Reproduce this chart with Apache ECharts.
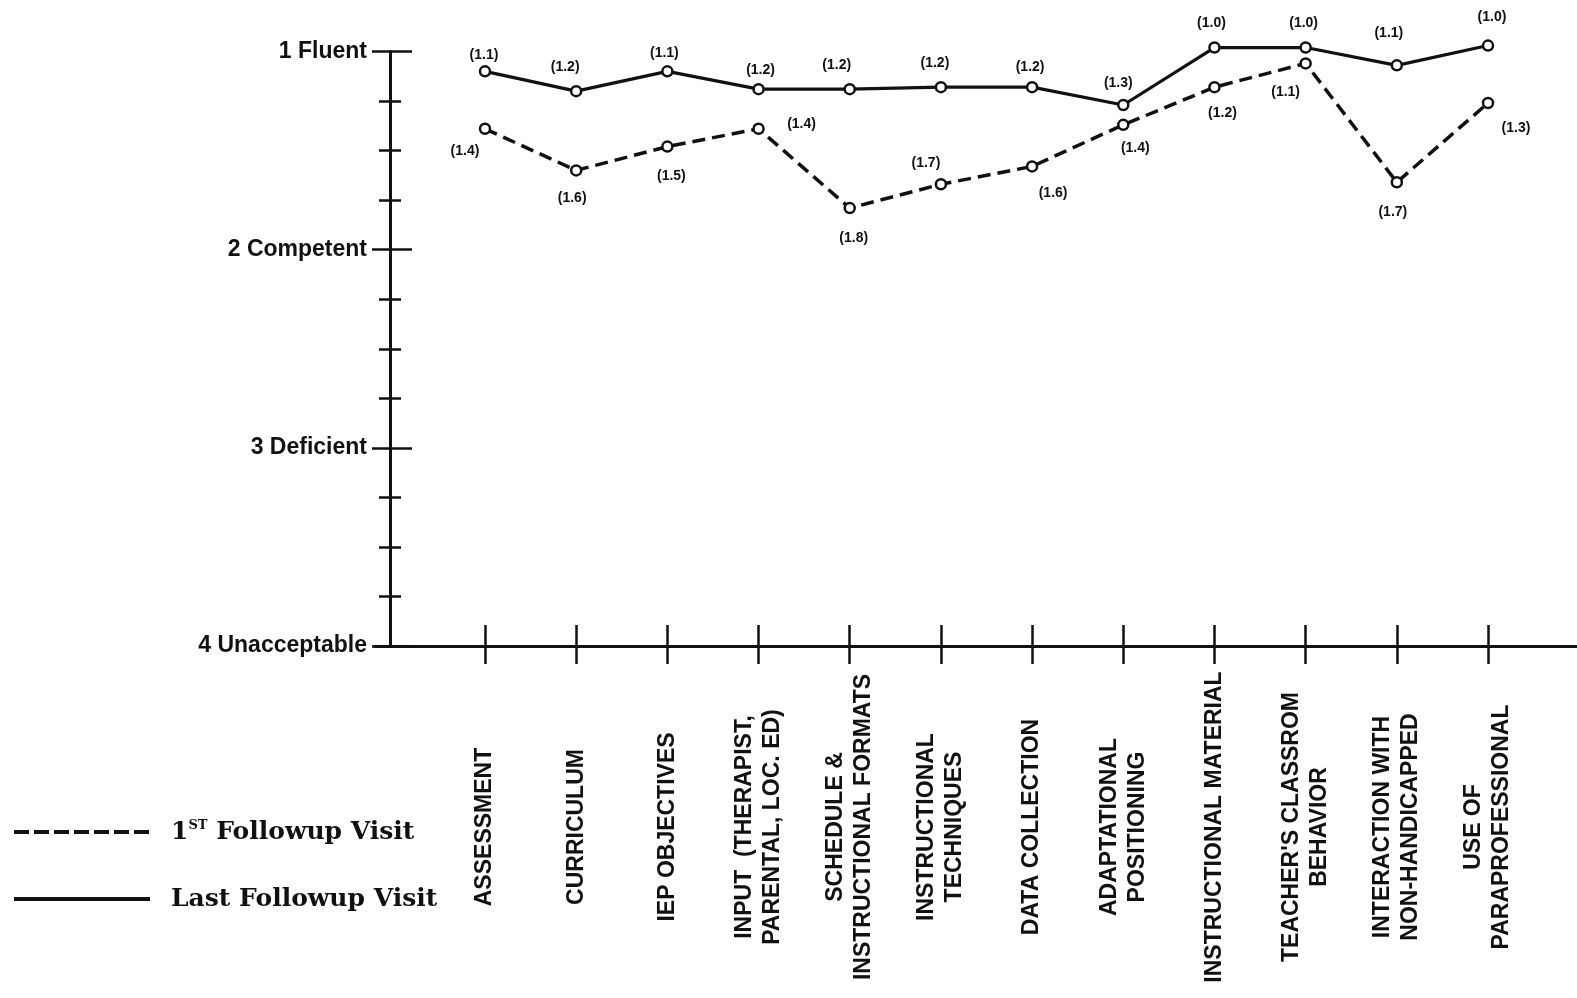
<!DOCTYPE html>
<html><head><meta charset="utf-8">
<script src="https://cdn.jsdelivr.net/npm/echarts@6/dist/echarts.min.js"></script>
<style>html,body{margin:0;padding:0;background:#fff}#c{width:1577px;height:998px}</style>
</head><body><div id="c"></div>
<script>
// ---- data ----
const categories = [
  'ASSESSMENT',
  'CURRICULUM',
  'IEP OBJECTIVES',
  'INPUT  (THERAPIST,\nPARENTAL, LOC. ED)',
  'SCHEDULE &\nINSTRUCTIONAL FORMATS',
  'INSTRUCTIONAL\nTECHNIQUES',
  'DATA COLLECTION',
  'ADAPTATIONAL\nPOSITIONING',
  'INSTRUCTIONAL MATERIAL',
  "TEACHER'S CLASSROM\nBEHAVIOR",
  'INTERACTION WITH\nNON-HANDICAPPED',
  'USE OF\nPARAPROFESSIONAL'
];
const firstVisit = [1.39, 1.60, 1.48, 1.39, 1.79, 1.67, 1.58, 1.37, 1.18, 1.06, 1.66, 1.26];
const lastVisit  = [1.10, 1.20, 1.10, 1.19, 1.19, 1.18, 1.18, 1.27, 0.98, 0.98, 1.07, 0.97];
const yTickLabels = ['1 Fluent', '2 Competent', '3 Deficient', '4 Unacceptable'];
const seriesNames = ['1ST Followup Visit', 'Last Followup Visit'];

// ---- label placement (style) ----
const firstLabelOffsets = [[-20,22],[-4,28],[4,30],[43,-5],[4,30],[-15,-21],[21,27],[12,23],[8,26],[-20,29],[-4,30],[28,25]];
const lastLabelOffsets  = [[-1,-16],[-11,-24],[-3,-18],[2,-19],[-13,-24],[-6,-24],[-2,-20],[-5,-22],[-3,-24],[-2,-24],[-8,-32],[4,-28]];

const INK = '#111';
const TOP = 51.5, BOTTOM = 998 - 646;
const SANS = 'Liberation Sans, Arial, sans-serif';
const SERIF = 'DejaVu Serif, serif';

function items(vals, offs) {
  return vals.map((v, i) => ({ value: v, label: { offset: offs[i] } }));
}
const hiddenVal = (extra) => Object.assign({ type: 'value', show: false, min: 1, max: 4, inverse: true }, extra || {});

const chart = echarts.init(document.getElementById('c'), null, { renderer: 'canvas' });
chart.setOption({
  backgroundColor: '#fff',
  animation: false,
  grid: [
    { left: 375, right: 0, top: TOP, bottom: BOTTOM },       // x axis line
    { left: 390, right: 0, top: TOP, bottom: BOTTOM },       // y axis, outer ticks + labels
    { left: 390, right: 0, top: TOP, bottom: BOTTOM },       // y axis, inner ticks
    { left: 439.4, right: 43.4, top: TOP, bottom: BOTTOM },  // categories, outer ticks + labels, series
    { left: 439.4, right: 43.4, top: TOP, bottom: BOTTOM }   // categories, inner ticks
  ],
  xAxis: [
    { gridIndex: 0, type: 'value', min: 0, max: 1,
      axisLine: { show: true, lineStyle: { color: INK, width: 3 } },
      axisTick: { show: false }, axisLabel: { show: false }, splitLine: { show: false } },
    { gridIndex: 1, type: 'value', show: false },
    { gridIndex: 2, type: 'value', show: false },
    { gridIndex: 3, type: 'category', data: categories, boundaryGap: true,
      axisLine: { show: false },
      axisTick: { show: true, interval: 0, alignWithLabel: true, length: 18, lineStyle: { color: INK, width: 2.5 } },
      axisLabel: { interval: 0, rotate: 90, align: 'center', verticalAlign: 'middle', margin: 181,
        color: INK, fontFamily: SANS, fontWeight: 'bold', fontSize: 23, lineHeight: 28 },
      splitLine: { show: false } },
    { gridIndex: 4, type: 'category', data: categories, boundaryGap: true,
      axisLine: { show: false },
      axisTick: { show: true, interval: 0, inside: true, alignWithLabel: true, length: 21, lineStyle: { color: INK, width: 2.5 } },
      axisLabel: { show: false, interval: 0 }, splitLine: { show: false } }
  ],
  yAxis: [
    hiddenVal({ gridIndex: 0 }),
    { gridIndex: 1, type: 'value', min: 1, max: 4, interval: 1, inverse: true, position: 'left',
      axisLine: { show: true, lineStyle: { color: INK, width: 3 } },
      axisTick: { show: true, length: 18, lineStyle: { color: INK, width: 2.5 } },
      minorTick: { show: true, splitNumber: 4, length: 11, lineStyle: { color: INK, width: 2.5 } },
      axisLabel: { margin: 23, color: INK, fontFamily: SANS, fontWeight: 'bold', fontSize: 23,
        formatter: v => yTickLabels[Math.round(v) - 1] },
      splitLine: { show: false }, minorSplitLine: { show: false } },
    { gridIndex: 2, type: 'value', min: 1, max: 4, interval: 1, inverse: true, position: 'left',
      axisLine: { show: false },
      axisTick: { show: true, inside: true, length: 22, lineStyle: { color: INK, width: 2.5 } },
      minorTick: { show: true, splitNumber: 4, length: 11, lineStyle: { color: INK, width: 2.5 } },
      axisLabel: { show: false }, splitLine: { show: false }, minorSplitLine: { show: false } },
    hiddenVal({ gridIndex: 3 }),
    hiddenVal({ gridIndex: 4 })
  ],
  legend: [
    { data: [seriesNames[0]], orient: 'vertical', left: 12, top: 819, padding: 0,
      itemWidth: 136, itemHeight: 30, itemStyle: { opacity: 0 },
      lineStyle: { width: 4, type: [15, 5], color: INK },
      formatter: () => '{n|1}{s|ST}{n| Followup Visit}',
      textStyle: { padding: [0, 0, 0, 16], rich: {
        n: { fontFamily: SERIF, fontWeight: 'bold', fontSize: 25, color: INK },
        s: { fontFamily: SERIF, fontWeight: 'bold', fontSize: 13, color: INK, padding: [0, 0, 13, 0] } } } },
    { data: [seriesNames[1]], orient: 'vertical', left: 12, top: 886, padding: 0,
      itemWidth: 136, itemHeight: 30, itemStyle: { opacity: 0 },
      lineStyle: { width: 4, type: 'solid', color: INK },
      textStyle: { padding: [0, 0, 0, 16], fontFamily: SERIF, fontWeight: 'bold', fontSize: 25, color: INK } }
  ],
  series: [
    { name: seriesNames[0], type: 'line', xAxisIndex: 3, yAxisIndex: 3, clip: false,
      data: items(firstVisit, firstLabelOffsets),
      symbol: 'circle', symbolSize: 10,
      itemStyle: { color: '#fff', borderColor: INK, borderWidth: 2.5 },
      lineStyle: { color: INK, width: 3.5, type: [13, 7] },
      label: { show: true, position: 'inside', color: INK, fontFamily: SANS, fontWeight: 'bold', fontSize: 14,
        formatter: p => '(' + p.value.toFixed(1) + ')' } },
    { name: seriesNames[1], type: 'line', xAxisIndex: 3, yAxisIndex: 3, clip: false,
      data: items(lastVisit, lastLabelOffsets),
      symbol: 'circle', symbolSize: 10,
      itemStyle: { color: '#fff', borderColor: INK, borderWidth: 2.5 },
      lineStyle: { color: INK, width: 3.2, type: 'solid' },
      label: { show: true, position: 'inside', color: INK, fontFamily: SANS, fontWeight: 'bold', fontSize: 14,
        formatter: p => '(' + p.value.toFixed(1) + ')' } }
  ]
});
</script>
</body></html>
